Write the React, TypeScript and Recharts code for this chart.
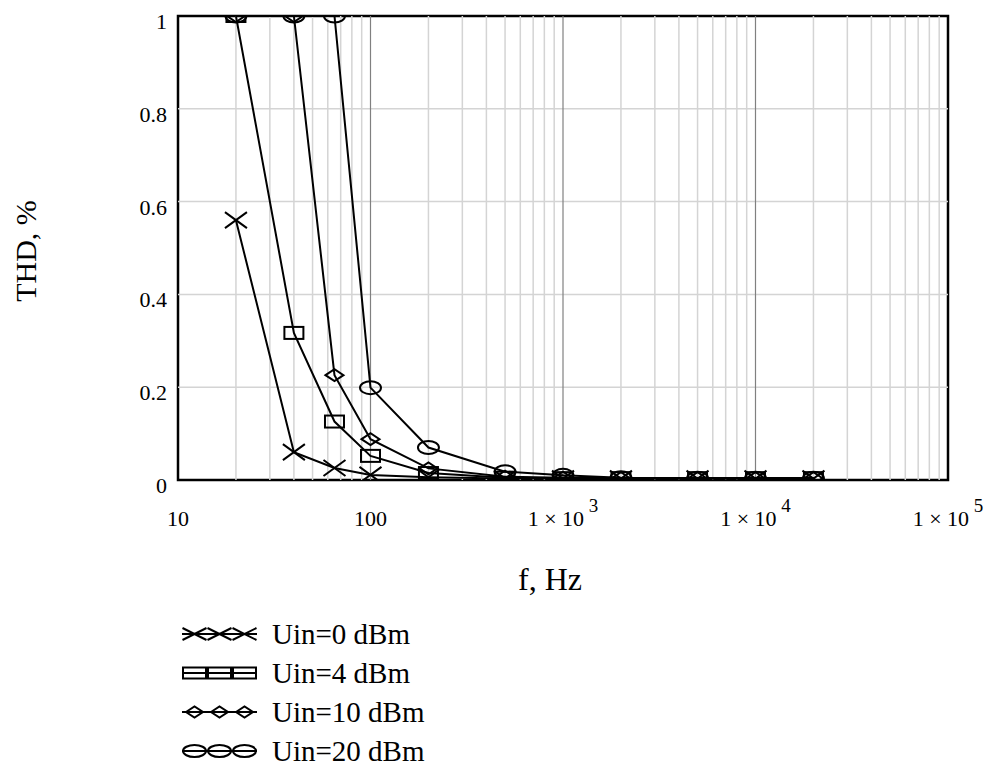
import React from "react"
import {
  LineChart,
  Line,
  XAxis,
  YAxis,
  ReferenceLine,
  ReferenceArea,
  Label,
} from "recharts"

const FONT = "'Liberation Serif', 'Times New Roman', serif"

// frequency points, Hz
const FREQS = [20, 40, 65, 100, 200, 500, 1000, 2000, 5000, 10000, 20000]

// THD, % for each input level (values at the top edge are clipped at 1)
const THD_0DBM = [0.56, 0.06, 0.026, 0.011, 0.006, 0.003, 0.003, 0.003, 0.003, 0.003, 0.003]
const THD_4DBM = [1, 0.317, 0.126, 0.052, 0.015, 0.005, 0.004, 0.004, 0.004, 0.004, 0.004]
const THD_10DBM = [1, 1, 0.226, 0.088, 0.025, 0.007, 0.005, 0.004, 0.004, 0.004, 0.004]
const THD_20DBM = [1, 1, 1, 0.199, 0.07, 0.018, 0.01, 0.005, 0.004, 0.004, 0.004]

const X_TICKS = [10, 100, 1000, 10000, 100000]
const Y_TICKS = [0, 0.2, 0.4, 0.6, 0.8, 1]
const Y_TICK_LABELS = ["0", "0.2", "0.4", "0.6", "0.8", "1"]
const MAJOR_LINES = [100, 1000, 10000]
const MINOR_LINES = [10, 100, 1000, 10000].flatMap(d =>
  [2, 3, 4, 5, 6, 7, 8, 9].map(m => m * d)
)
const H_LINES = [0.2, 0.4, 0.6, 0.8]

type MarkerKind = "cross" | "square" | "diamond" | "circle"

const SERIES: { key: string; name: string; values: number[]; marker: MarkerKind }[] = [
  { key: "u0", name: "Uin=0 dBm", values: THD_0DBM, marker: "cross" },
  { key: "u4", name: "Uin=4 dBm", values: THD_4DBM, marker: "square" },
  { key: "u10", name: "Uin=10 dBm", values: THD_10DBM, marker: "diamond" },
  { key: "u20", name: "Uin=20 dBm", values: THD_20DBM, marker: "circle" },
]

const data = FREQS.map((f, i) => {
  const row: Record<string, number> = { f }
  SERIES.forEach(s => (row[s.key] = s.values[i]))
  return row
})

const W = 997
const H = 769
const MARGIN = { top: 16, right: 49, bottom: 259, left: 118 }
const X_AXIS_H = 30
const PLOT_TOP = MARGIN.top
const PLOT_H = H - MARGIN.top - MARGIN.bottom - X_AXIS_H

const PLOT_SIZES: Record<MarkerKind, [number, number]> = {
  cross: [22, 16],
  square: [19, 12],
  diamond: [18, 12],
  circle: [21, 13],
}

const LEGEND_SIZES: Record<MarkerKind, [number, number]> = {
  cross: [24, 12],
  square: [23, 11],
  diamond: [17, 11],
  circle: [23, 12],
}

function Marker({ kind, cx, cy, w, h }: { kind: MarkerKind; cx: number; cy: number; w: number; h: number }) {
  const common = { stroke: "#000", strokeWidth: 2, fill: "none" }
  const hw = w / 2
  const hh = h / 2
  if (kind === "cross") {
    return (
      <path
        d={`M${cx - hw},${cy - hh}L${cx + hw},${cy + hh}M${cx - hw},${cy + hh}L${cx + hw},${cy - hh}`}
        {...common}
      />
    )
  }
  if (kind === "square") {
    return <rect x={cx - hw} y={cy - hh} width={w} height={h} {...common} />
  }
  if (kind === "diamond") {
    return (
      <polygon
        points={`${cx - hw},${cy} ${cx},${cy - hh} ${cx + hw},${cy} ${cx},${cy + hh}`}
        {...common}
      />
    )
  }
  return <ellipse cx={cx} cy={cy} rx={hw} ry={hh} {...common} />
}

// markers are cut at the plot frame like the lines
function makeDot(kind: MarkerKind) {
  const [w, h] = PLOT_SIZES[kind]
  const clipId = `plot-clip-${kind}`
  return (props: any) => {
    const { cx, cy, index } = props
    if (cx == null || cy == null) return <g key={`${kind}-${index}`} />
    return (
      <g key={`${kind}-${index}`}>
        {index === 0 && (
          <defs>
            <clipPath id={clipId}>
              <rect x={0} y={PLOT_TOP} width={W} height={PLOT_H} />
            </clipPath>
          </defs>
        )}
        <g clipPath={`url(#${clipId})`}>
          <Marker kind={kind} cx={cx} cy={cy} w={w} h={h} />
        </g>
      </g>
    )
  }
}

function XTick(props: any) {
  const { x, y, payload } = props
  const v = payload.value as number
  const exp = Math.round(Math.log10(v))
  return (
    <text x={x} y={y + 38} textAnchor="middle" fontSize={22} fontFamily={FONT} fill="#000">
      {v < 1000 ? (
        String(v)
      ) : (
        <>
          {"1 \u00d7 10"}
          <tspan dy={-14} fontSize={19}>{` ${exp}`}</tspan>
        </>
      )}
    </text>
  )
}

function YTick(props: any) {
  const { x, y, payload } = props
  const idx = Y_TICKS.indexOf(payload.value)
  return (
    <text x={x - 3} y={y + 13} textAnchor="end" fontSize={22} fontFamily={FONT} fill="#000">
      {Y_TICK_LABELS[idx]}
    </text>
  )
}

function LegendBox() {
  const rowGap = 39
  return (
    <svg width={320} height={160} style={{ position: "absolute", left: 170, top: 610 }}>
      {SERIES.map((s, i) => {
        const cy = 24 + i * rowGap
        const [w, h] = LEGEND_SIZES[s.marker]
        return (
          <g key={s.key}>
            <line x1={12} x2={87} y1={cy} y2={cy} stroke="#000" strokeWidth={2} />
            {[0, 1, 2].map(k => (
              <Marker key={k} kind={s.marker} cx={24.5 + k * 25} cy={cy} w={w} h={h} />
            ))}
            <text x={102} y={cy + 10} fontSize={29} fontFamily={FONT} fill="#000">
              {s.name}
            </text>
          </g>
        )
      })}
    </svg>
  )
}

export default function App() {
  return (
    <div
      style={{
        position: "absolute",
        left: 0,
        top: 0,
        width: W,
        height: H,
        background: "#fff",
      }}
    >
      <LineChart width={W} height={H} data={data} margin={MARGIN}>
        <XAxis
          dataKey="f"
          type="number"
          scale="log"
          domain={[10, 100000]}
          ticks={X_TICKS}
          allowDataOverflow
          axisLine={false}
          tickLine={false}
          height={X_AXIS_H}
          tick={<XTick />}
        >
          <Label
            content={() => (
              <text x={550} y={590} textAnchor="middle" fontSize={32} fontFamily={FONT} fill="#000">
                f, Hz
              </text>
            )}
          />
        </XAxis>
        <YAxis
          type="number"
          domain={[0, 1]}
          ticks={Y_TICKS}
          allowDataOverflow
          axisLine={false}
          tickLine={false}
          width={60}
          tick={<YTick />}
        >
          <Label
            content={() => (
              <text
                x={25}
                y={251}
                transform="rotate(-90 25 251)"
                textAnchor="middle"
                dominantBaseline="central"
                fontSize={30}
                fontFamily={FONT}
                fill="#000"
              >
                THD, %
              </text>
            )}
          />
        </YAxis>

        {H_LINES.map(v => (
          <ReferenceLine key={`h${v}`} y={v} stroke="#d4d4d4" strokeWidth={1.5} />
        ))}
        {MINOR_LINES.filter(v => !MAJOR_LINES.includes(v)).map(v => (
          <ReferenceLine key={`m${v}`} x={v} stroke="#d4d4d4" strokeWidth={1.5} />
        ))}
        {MAJOR_LINES.map(v => (
          <ReferenceLine key={`M${v}`} x={v} stroke="#808080" strokeWidth={1.2} />
        ))}
        <ReferenceArea
          x1={10}
          x2={100000}
          y1={0}
          y2={1}
          fill="none"
          fillOpacity={0}
          stroke="#000"
          strokeWidth={2.5}
          strokeOpacity={1}
        />

        {SERIES.map(s => (
          <Line
            key={s.key}
            dataKey={s.key}
            type="linear"
            stroke="#000"
            strokeWidth={2}
            dot={makeDot(s.marker)}
            activeDot={false}
            isAnimationActive={false}
          />
        ))}
      </LineChart>
      <LegendBox />
    </div>
  )
}
